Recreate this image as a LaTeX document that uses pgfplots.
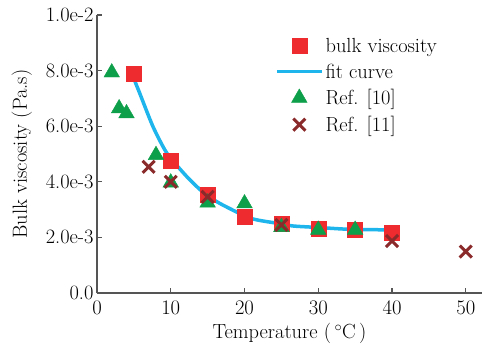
\documentclass[border=0pt]{standalone}
\usepackage{fontspec}
\usepackage{pgfplots}
\pgfplotsset{compat=1.18}
\definecolor{cred}{HTML}{EE2B2E}
\definecolor{ccyan}{HTML}{1EB4EC}
\definecolor{cgreen}{HTML}{0E9F4A}
\definecolor{cdred}{HTML}{8B2A2A}
\definecolor{caxis}{HTML}{555555}
\newcommand{\fs}{\fontsize{20.5}{24}\selectfont}
\begin{document}
\begin{tikzpicture}
\begin{axis}[
  at={(0,0)}, anchor=south west,
  scale only axis, width=385bp, height=278bp,
  xmin=0, xmax=52.2, ymin=0, ymax=0.01,
  axis lines*=left,
  axis line style={caxis, line width=1.3bp},
  tick style={caxis, line width=1.1bp},
  tick align=inside,
  major tick length=5bp,
  xtick={0,10,20,30,40,50},
  ytick={0,0.002,0.004,0.006,0.008,0.01},
  yticklabels={0.0,2.0e-3,4.0e-3,6.0e-3,8.0e-3,1.0e-2},
  scaled y ticks=false,
  tick label style={font=\fs},
  xticklabel style={yshift=-5bp},
  label style={font=\fs},
  xlabel={Temperature (\,$^{\circ}$C\,)},
  ylabel={Bulk viscosity (Pa.s)},
  xlabel style={yshift=-2bp},
  ylabel style={yshift=7bp},
  clip=false,
  legend image code/.code={\draw[mark repeat=2,mark phase=2,#1] plot coordinates {(0bp,0bp) (22.5bp,0bp) (45bp,0bp)};},
  legend style={at={(0.462,0.925)}, anchor=north west, draw=none, fill=none,
    font=\fs, inner sep=0pt, row sep=6bp,
    /tikz/every even column/.append style={column sep=5bp},
    cells={anchor=west}},
]
\addplot[only marks, mark=square*, mark size=7.5bp, color=cred] coordinates {
 (5,0.0079) (10,0.00476) (15,0.00353) (20,0.00275) (25,0.0025) (30,0.00233) (35,0.00229) (40,0.00217)
};
\addlegendentry{bulk viscosity}
\addplot[ccyan, line width=3.5bp, smooth, tension=0.4] coordinates {
 (4.8,0.00784) (5.8,0.00718) (7.6,0.00598) (9.5,0.00502) (12.2,0.00418) (14.4,0.00362) (16.6,0.00323) (20.8,0.00269) (24.4,0.00251) (26.6,0.00241) (29.8,0.00236) (34.3,0.00229) (40.2,0.00227)
};
\addlegendentry{fit curve}
\addplot[only marks, mark=triangle*, mark size=9bp, color=cgreen] coordinates {
 (2,0.00793) (3,0.00664) (4,0.00646) (8,0.00496) (10,0.00397) (15,0.00325) (20,0.00322) (25,0.00237) (30,0.00227) (35,0.00227)
};
\addlegendentry{Ref. [10]}
\addplot[only marks, mark=x, mark size=8.5bp, color=cdred, mark options={line width=3bp}] coordinates {
 (7,0.00454) (10,0.004) (15,0.00346) (25,0.00245) (40,0.00187) (50,0.00149)
};
\addlegendentry{Ref. [11]}
\end{axis}
\pgfresetboundingbox
\path[use as bounding box] (-97bp,-60bp) rectangle (385bp,293bp);
\end{tikzpicture}
\end{document}
